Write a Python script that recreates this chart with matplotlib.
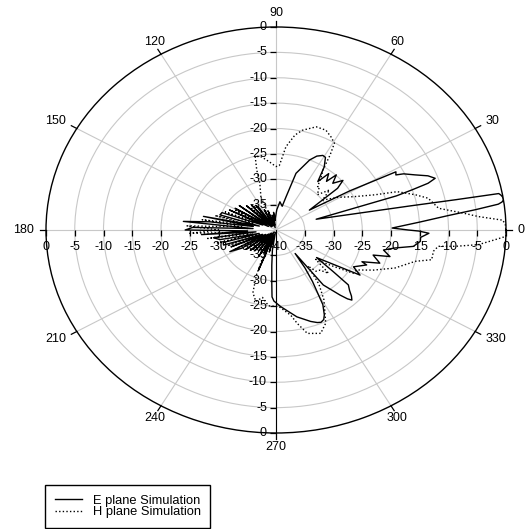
import numpy as np
import matplotlib

matplotlib.use("Agg")
import matplotlib.pyplot as plt

plt.rcParams["font.family"] = ["Liberation Sans", "DejaVu Sans"]

# E plane pattern (deg, dB), traced in order around the plot
E_ANGLE = [
    95, 97, 99, 103, 106, 110, 113, 117, 120, 124, 126, 128, 131, 134, 137, 140,
    143, 146, 149, 152, 154, 157, 160, 163, 165, 168, 170, 172, 174, 176, 178, 180,
    182, 184, 186, 188, 191, 193, 195, 198, 200, 203, 206, 208, 211, 213, 216, 219,
    222, 225, 228, 231, 234, 237, 240, 243, 245, 247, 249, 252, 255, 258, 261, 264,
    266, 267, 268.5, 273, 282, 288.5, 291.5, 293.3, 295.2, 296.7, 299, 302, 304, 305.7,
    307.2, 311, 312.5, 313.7, 315.2, 317, 319.3, 320.5, 322.4, 328.7, 331.7, 336.4, 337.3, 340.1,
    343.7, 345.2, 348.1, 350.3, 352.3, 354.9, 356.7, 358.6, 359.5, 360,
    1.1, 3.6, 5.4, 6.6, 7.5, 8, 8.5, 9, 9.5, 10, 10.5, 10.8, 11.5, 12.8, 16.9,
    17.8, 18.5, 19.2, 20.2, 22, 24.2, 26.5, 27.5, 28.8, 31, 34,
    37.5, 40, 43, 46, 47.5, 50.5, 52.7, 56, 59, 61, 64, 67, 72.7, 75, 77, 83, 88, 95,
]
E_DB = [
    -38, -36.5, -39, -37, -39.5, -36, -39, -35.5, -39, -34.5, -34, -39, -33.5, -38.5, -33, -39,
    -32, -38, -31.7, -38.5, -31, -37.5, -30, -29.8, -37, -27.1, -36, -28.4, -23.8, -36, -25.5, -24.2,
    -35, -27, -36.5, -29, -30.1, -37, -30.5, -30.4, -37.5, -31.5, -38, -30.9, -33, -38.5, -33.5, -39,
    -34, -39, -34.5, -39.5, -35, -39, -34, -38, -35, -38.5, -31.5, -39, -35.5, -39.5, -36, -33,
    -29.5, -26.8, -26, -24.9, -22.5, -21, -20.4, -20.2, -20.5, -21.3, -23.2, -28, -31, -34.3,
    -26.4, -23, -21.6, -20.9, -21.5, -22.5, -23.4, -27.1, -31.1, -22.9, -24.7, -22.8, -23.8, -20.8,
    -22.4, -19.5, -20.9, -19, -15.9, -14.8, -14.8, -13.4, -15.1, -17,
    -19.8, -14.9, -10, -5, -1, -0.3, 0, 0, -0.1, -0.3, -0.6, -8, -16.2, -24.5, -32.7,
    -18, -15, -12, -10.5, -11.5, -13.5, -15.2, -16.5, -16.2, -25, -33,
    -26.5, -24.8, -26.5, -24.9, -27, -25.6, -28, -25, -23.3, -23.2, -23.8, -25, -28.3, -33.2, -35.2, -34.4, -36, -38,
]

# H plane pattern (deg, dB)
H_ANGLE = [
    112, 107, 105.8, 104, 99.8, 95, 90, 87.4, 84, 80, 76.8, 71, 66.2, 62.5, 59.3,
    57.5, 55.5, 52.9, 49.8, 48.6, 44, 40.3, 36, 31, 25.8, 22, 19.7, 16, 13.3, 10.5,
    8.6, 5.8, 4.3, 2.8, 1.5, 0, -1.8, -2.9, -4.7, -5.9, -6.5, -8.7, -12.2, -14.3,
    -19.9, -25, -29.3, -32.4, -36, -40, -43, -46, -49.4, -52, -55, -58.8, -64.8,
    -69.1, -75, -78.6, -81.3, -88, -95, -100, -104, -108, -111, -114,
    244, 240, 236, 232, 228, 224, 220, 216, 212, 208, 204, 200, 197, 194, 191, 188,
    185, 182.5, 180, 177, 174, 171, 168, 165, 162, 158, 155, 151, 147, 143, 139, 135,
    131, 127, 122, 118, 114, 112,
]
H_DB = [
    -33, -30.4, -27.7, -25, -25.4, -26.5, -27.5, -27.3, -23.5, -21, -19.8, -18.5, -18.5, -19.3, -20.1,
    -22.5, -25.5, -27, -28.8, -28.6, -30, -27.8, -30, -27.5, -24.9, -21.5, -17.6, -14.8, -12.8, -12,
    -11.4, -7.2, -4.7, -0.5, -0.1, 0, 0, -1.9, -4.7, -8.7, -11.6, -12.3, -12.3, -15,
    -18, -21.3, -23.9, -24.1, -28, -31, -27.5, -29, -29.3, -31, -27, -23.9, -19.7,
    -18.2, -18.9, -21.2, -23, -24.9, -25, -26.5, -25.5, -27, -30.5, -35,
    -38, -36, -39, -35.5, -39, -34.5, -38.5, -33.5, -38, -32, -37.5, -31, -37, -29.5, -36, -28,
    -35, -25, -30, -24.5, -34, -27, -35, -29, -36, -30.5, -37, -32, -38, -33, -38.5, -34,
    -39, -35.5, -39, -36, -39, -33,
]

RINGS = [-35, -30, -25, -20, -15, -10, -5]
RADIAL_LABELS = [0, -5, -10, -15, -20, -25, -30, -35]
SPOKES = list(range(0, 360, 30))

GRID = "#c8c8c8"

fig = plt.figure(figsize=(5.28, 5.29), dpi=100)
ax = fig.add_axes([46 / 528, 96 / 529, 460 / 528, 406 / 529], projection="polar")
ax.set_ylim(-40, 0)
ax.set_thetagrids(SPOKES, labels=[""] * len(SPOKES))
ax.set_rgrids(RINGS, labels=[""] * len(RINGS))
ax.grid(color=GRID, linewidth=0.8)
ax.xaxis.set_tick_params(size=0)
ax.yaxis.set_tick_params(size=0)
ax.spines["polar"].set_linewidth(1.0)
ax.set_aspect("auto")

e_line, = ax.plot(np.deg2rad(E_ANGLE), E_DB, color="black", lw=1.0, label="E plane Simulation", zorder=3)
h_line, = ax.plot(np.deg2rad(H_ANGLE), H_DB, color="black", lw=1.0, ls=(0, (1, 1.6)),
                  label="H plane Simulation", zorder=3)

# lower half of the vertical axis is drawn dark
ax.plot([np.deg2rad(270)] * 2, [-40, 0], color="black", lw=0.8, zorder=2)

tick_r = RADIAL_LABELS
for side in (0, 180):
    ax.plot([np.deg2rad(side)] * len(tick_r), tick_r, ls="none", marker=3, ms=4.5, mew=0.9,
            color="black", clip_on=False, zorder=4)
for side in (90, 270):
    ax.plot([np.deg2rad(side)] * len(tick_r), tick_r, ls="none", marker=0, ms=4.5, mew=0.9,
            color="black", clip_on=False, zorder=4)

# outward ticks on the rim
for a in SPOKES:
    t = np.deg2rad(a)
    ax.plot([t, t], [0, 1.1], color="black", lw=0.9, clip_on=False)

for v in RADIAL_LABELS:
    for side in (0, 180):
        ax.annotate(str(v), xy=(np.deg2rad(side), v), xytext=(0, -17), textcoords="offset pixels",
                    ha="center", va="center", fontsize=9, annotation_clip=False)
    for side in (90, 270):
        ax.annotate(str(v), xy=(np.deg2rad(side), v), xytext=(-9, 0), textcoords="offset pixels",
                    ha="right", va="center", fontsize=9, annotation_clip=False)
ax.annotate("-40", xy=(0, -40), xytext=(2, -17), textcoords="offset pixels",
            ha="center", va="center", fontsize=9)

for a in SPOKES:
    t = np.deg2rad(a)
    c, s = np.cos(t), np.sin(t)
    ha = "left" if c > 0.7 else ("right" if c < -0.7 else "center")
    ax.annotate(str(a), xy=(t, 0), xytext=(12 * c, 14 * s), textcoords="offset pixels",
                ha=ha, va="center", fontsize=9, annotation_clip=False)

leg = fig.legend(handles=[e_line, h_line], loc="upper left", bbox_to_anchor=(45 / 528, 1 - 485 / 529),
                 frameon=True, fancybox=False, edgecolor="black", framealpha=1, fontsize=9.3,
                 handlelength=2.1, handletextpad=0.85, borderpad=0.75, labelspacing=-0.05,
                 borderaxespad=0)
leg.get_frame().set_linewidth(1.0)

fig.savefig("out.png", dpi=100, facecolor="white")
